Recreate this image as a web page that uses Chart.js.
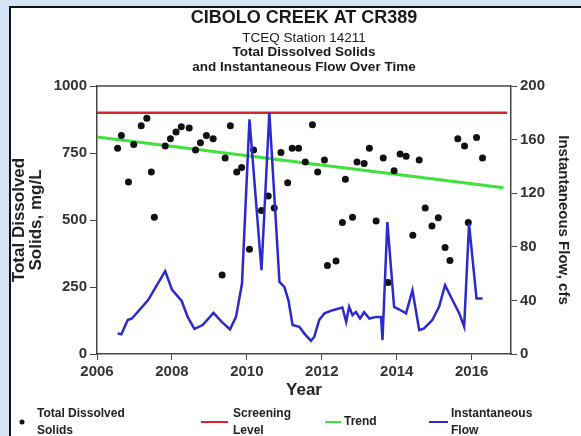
<!DOCTYPE html>
<html lang="en">
<head>
<meta charset="UTF-8">
<title>Cibolo Creek at CR389</title>
<script src="https://cdn.jsdelivr.net/npm/chart.js"></script>
<style>
  html, body { margin: 0; padding: 0; }
  body {
    width: 581px;
    height: 436px;
    background: #d3e5f5;
    position: relative;
    overflow: hidden;
  }
  .frame {
    position: absolute;
    left: 9px;
    top: 6px;
    width: 570px;
    height: 428px;
    background: #fff;
    border-left: 2px solid #111;
    border-top: 2px solid #111;
  }
  canvas { display: block; }
</style>
</head>
<body>
<div class="frame"><canvas id="chart" width="570" height="428"></canvas></div>

<script>
// TDS samples (mg/L)
const tdsYears = [2006.55, 2006.65, 2006.84, 2006.98, 2007.18, 2007.33, 2007.45, 2007.53, 2007.82, 2007.96,
                  2008.11, 2008.25, 2008.46, 2008.63, 2008.76, 2008.92, 2009.10, 2009.34, 2009.42, 2009.56,
                  2009.73, 2009.86, 2010.07, 2010.18, 2010.39, 2010.57, 2010.73, 2010.91, 2011.09, 2011.21,
                  2011.38, 2011.56, 2011.75, 2011.89, 2012.07, 2012.15, 2012.38, 2012.55, 2012.63, 2012.82,
                  2012.94, 2013.13, 2013.27, 2013.45, 2013.64, 2013.77, 2013.93, 2014.09, 2014.25, 2014.43,
                  2014.60, 2014.76, 2014.94, 2015.11, 2015.29, 2015.42, 2015.63, 2015.81, 2015.91, 2016.13,
                  2016.29];
const tdsValues = [768, 815, 642, 782, 852, 880, 679, 510, 776, 803,
                   828, 848, 843, 761, 788, 815, 803, 295, 731, 852,
                   679, 696, 391, 761, 535, 590, 545, 752, 639, 768,
                   768, 716, 855, 679, 724, 330, 347, 491, 652, 510,
                   716, 711, 768, 496, 731, 267, 684, 746, 738, 443,
                   724, 545, 478, 508, 397, 349, 803, 776, 491, 808,
                   731];

// instantaneous flow (cfs)
const flowYears = [2006.55, 2006.65, 2006.82, 2006.93, 2007.36, 2007.82, 2008.00, 2008.26, 2008.42, 2008.60,
                   2008.82, 2009.11, 2009.33, 2009.55, 2009.71, 2009.87, 2010.07, 2010.39, 2010.60, 2010.87,
                   2011.00, 2011.11, 2011.22, 2011.40, 2011.53, 2011.71, 2011.80, 2011.93, 2012.07, 2012.29,
                   2012.55, 2012.65, 2012.73, 2012.82, 2012.91, 2013.02, 2013.13, 2013.27, 2013.45, 2013.58,
                   2013.62, 2013.75, 2013.93, 2014.07, 2014.25, 2014.42, 2014.60, 2014.73, 2014.95, 2015.13,
                   2015.29, 2015.49, 2015.67, 2015.80, 2015.93, 2016.13, 2016.29];
const flowValues = [15.4, 14.7, 25.3, 26.5, 40.1, 61.9, 48.1, 39.6, 27.7, 18.8,
                    21.6, 30.7, 24.0, 18.4, 27.7, 52.6, 175.2, 62.5, 180.2, 53.8,
                    50.0, 40.1, 21.6, 20.3, 15.4, 9.9, 12.9, 25.3, 30.3, 32.7,
                    34.7, 24.0, 35.2, 29.0, 31.4, 26.5, 31.2, 26.5, 27.7, 27.7,
                    10.4, 98.4, 35.2, 33.2, 30.3, 47.6, 17.8, 19.1, 25.3, 35.2,
                    51.3, 40.1, 30.3, 20.3, 97.2, 41.4, 41.4];

const screeningYears = [2006, 2016.95];
const screeningValues = [900, 900];
const trendYears = [2006, 2016.85];
const trendValues = [810, 620];

const yearTicks = [2006, 2008, 2010, 2012, 2014, 2016];
const tdsTicks = [0, 250, 500, 750, 1000];
const flowTicks = [0, 40, 80, 120, 160, 200];

const FONT = '"Liberation Sans", Arial, sans-serif';
const RED = '#d9262c';
const GREEN = '#3fe03f';
const BLUE = '#2a2acf';
const AXIS = '#444';

function toPoints(xs, ys) {
    return xs.map((x, i) => ({ x: x, y: ys[i] }));
}

// header text above the plot and the legend under it
const headerLegend = {
    id: 'headerLegend',
    afterDraw(chart) {
        const ctx = chart.ctx;
        const area = chart.chartArea;
        const cx = (area.left + area.right) / 2;
        ctx.save();
        ctx.fillStyle = '#1a1a1a';
        ctx.textAlign = 'center';
        ctx.textBaseline = 'middle';
        ctx.font = 'bold 18px ' + FONT;
        ctx.fillText('CIBOLO CREEK AT CR389', cx, 10);
        ctx.font = '13.5px ' + FONT;
        ctx.fillText('TCEQ Station 14211', cx, 30);
        ctx.font = 'bold 13.5px ' + FONT;
        ctx.fillText('Total Dissolved Solids', cx, 44);
        ctx.fillText('and Instantaneous Flow Over Time', cx, 59);

        // legend
        const items = [
            { lines: ['Total Dissolved', 'Solids'], dot: true, x0: 11, tx: 26 },
            { lines: ['Screening', 'Level'], color: RED, x0: 190, x1: 217, tx: 222 },
            { lines: ['Trend'], color: GREEN, x0: 314, x1: 330, tx: 333 },
            { lines: ['Instantaneous', 'Flow'], color: BLUE, x0: 418, x1: 437, tx: 440 }
        ];
        const symY = 414;
        ctx.textAlign = 'left';
        ctx.font = 'bold 12px ' + FONT;
        items.forEach(it => {
            if (it.dot) {
                ctx.fillStyle = '#111';
                ctx.beginPath();
                ctx.arc(it.x0, symY, 2.5, 0, Math.PI * 2);
                ctx.fill();
            } else {
                ctx.strokeStyle = it.color;
                ctx.lineWidth = 2;
                ctx.beginPath();
                ctx.moveTo(it.x0, symY);
                ctx.lineTo(it.x1, symY);
                ctx.stroke();
            }
            ctx.fillStyle = '#222';
            if (it.lines.length === 1) {
                ctx.fillText(it.lines[0], it.tx, symY);
            } else {
                ctx.fillText(it.lines[0], it.tx, symY - 8);
                ctx.fillText(it.lines[1], it.tx, symY + 9);
            }
        });
        ctx.restore();
    },
    beforeDatasetsDraw(chart) {
        // top edge of the plot box
        const ctx = chart.ctx;
        const area = chart.chartArea;
        ctx.save();
        ctx.strokeStyle = AXIS;
        ctx.lineWidth = 1.5;
        ctx.beginPath();
        ctx.moveTo(area.left, area.top);
        ctx.lineTo(area.right, area.top);
        ctx.stroke();
        ctx.restore();
    }
};

new Chart(document.getElementById('chart'), {
    type: 'scatter',
    data: {
        datasets: [
            {
                label: 'Instantaneous Flow',
                data: toPoints(flowYears, flowValues),
                showLine: true,
                borderColor: BLUE,
                borderWidth: 2.5,
                pointRadius: 0,
                tension: 0,
                yAxisID: 'y1',
                order: 0
            },
            {
                label: 'Total Dissolved Solids',
                data: toPoints(tdsYears, tdsValues),
                backgroundColor: '#111',
                borderWidth: 0,
                pointRadius: 3.5,
                yAxisID: 'y',
                order: 1
            },
            {
                label: 'Trend',
                data: toPoints(trendYears, trendValues),
                showLine: true,
                borderColor: GREEN,
                borderWidth: 3,
                pointRadius: 0,
                yAxisID: 'y',
                order: 2
            },
            {
                label: 'Screening Level',
                data: toPoints(screeningYears, screeningValues),
                showLine: true,
                borderColor: RED,
                borderWidth: 2.5,
                pointRadius: 0,
                yAxisID: 'y',
                order: 3
            }
        ]
    },
    options: {
        responsive: false,
        animation: false,
        layout: { padding: { top: 78, bottom: 32, left: 0, right: 0 } },
        plugins: {
            legend: { display: false },
            tooltip: { enabled: false }
        },
        scales: {
            x: {
                type: 'linear',
                min: 2006,
                max: 2017.05,
                afterBuildTicks: s => { s.ticks = yearTicks.map(v => ({ value: v })); },
                afterFit: s => { s.height = 50; },
                ticks: {
                    callback: v => String(v),
                    autoSkip: false,
                    maxRotation: 0,
                    padding: 3,
                    color: '#333',
                    font: { family: FONT, size: 15, weight: 'bold' }
                },
                grid: { drawOnChartArea: false, tickLength: 6, tickColor: AXIS },
                border: { color: AXIS, width: 1.5 },
                title: {
                    display: true,
                    text: 'Year',
                    color: '#222',
                    padding: { top: 0, bottom: 3 },
                    font: { family: FONT, size: 17, weight: 'bold' }
                }
            },
            y: {
                position: 'left',
                min: 0,
                max: 1000,
                afterBuildTicks: s => { s.ticks = tdsTicks.map(v => ({ value: v })); },
                afterFit: s => { s.width = 86; },
                ticks: {
                    callback: v => String(v),
                    padding: 3,
                    color: '#333',
                    font: { family: FONT, size: 15, weight: 'bold' }
                },
                grid: { drawOnChartArea: false, tickLength: 7, tickColor: AXIS },
                border: { color: AXIS, width: 1.5 },
                title: {
                    display: true,
                    text: ['Total Dissolved', 'Solids, mg/L'],
                    color: '#222',
                    padding: { top: 0, bottom: 0 },
                    font: { family: FONT, size: 17, weight: 'bold', lineHeight: 1 }
                }
            },
            y1: {
                position: 'right',
                min: 0,
                max: 200,
                afterBuildTicks: s => { s.ticks = flowTicks.map(v => ({ value: v })); },
                afterFit: s => { s.width = 70; },
                ticks: {
                    callback: v => String(v),
                    padding: 3,
                    color: '#333',
                    font: { family: FONT, size: 15, weight: 'bold' }
                },
                grid: { drawOnChartArea: false, tickLength: 6, tickColor: AXIS },
                border: { color: AXIS, width: 1.5 },
                title: {
                    display: true,
                    text: 'Instantaneous Flow, cfs',
                    color: '#222',
                    padding: { top: 9, bottom: 0 },
                    font: { family: FONT, size: 15, weight: 'bold' }
                }
            }
        }
    },
    plugins: [headerLegend]
});
</script>
</body>
</html>
